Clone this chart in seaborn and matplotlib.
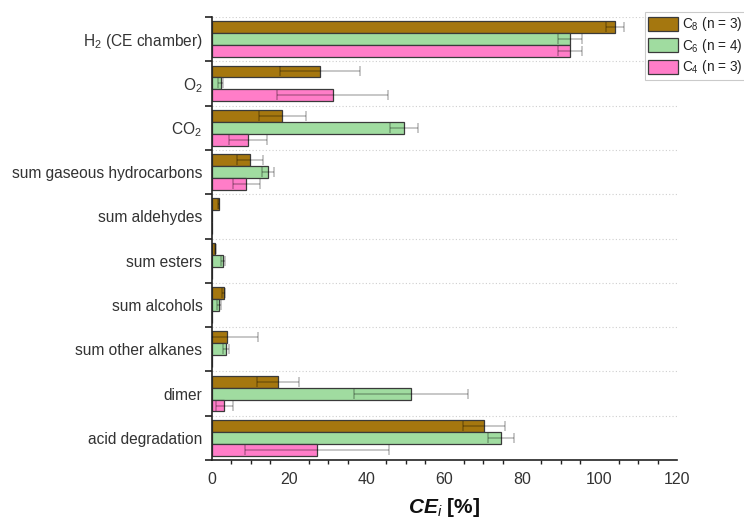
import numpy as np
import pandas as pd
import matplotlib
matplotlib.use("Agg")
import matplotlib.pyplot as plt
from matplotlib.ticker import MultipleLocator, FixedLocator
import seaborn as sns

categories = [
    "H$_2$ (CE chamber)", "O$_2$", "CO$_2$", "sum gaseous hydrocarbons",
    "sum aldehydes", "sum esters", "sum alcohols", "sum other alkanes",
    "dimer", "acid degradation",
]
series = ["C$_8$ (n = 3)", "C$_6$ (n = 4)", "C$_4$ (n = 3)"]

ce_c8 = [104.0, 27.9, 18.1, 9.8, 1.7, 0.9, 3.0, 3.9, 17.0, 70.3]
ce_c6 = [92.4, 2.2, 49.6, 14.5, 0.0, 2.9, 1.7, 3.7, 51.3, 74.5]
ce_c4 = [92.4, 31.1, 9.3, 8.9, 0.0, 0.0, 0.0, 0.0, 3.2, 27.1]

err_c8 = [2.2, 10.3, 6.1, 3.3, 0.2, 0.2, 0.3, 8.0, 5.5, 5.4]
err_c6 = [3.2, 0.7, 3.6, 1.5, 0.0, 0.5, 0.5, 0.8, 14.7, 3.4]
err_c4 = [3.2, 14.3, 5.0, 3.4, 0.0, 0.0, 0.0, 0.0, 2.1, 18.5]

colors = ["#A5770F", "#A0DCA0", "#FF7DC8"]

values = [ce_c8, ce_c6, ce_c4]
errors = [err_c8, err_c6, err_c4]
df = pd.DataFrame({
    "category": np.tile(categories, len(series)),
    "series": np.repeat(series, len(categories)),
    "ce": np.concatenate(values),
    "err": np.concatenate(errors),
})

sns.set_theme(style="white")
plt.rcParams["font.family"] = ["Liberation Sans", "DejaVu Sans"]
plt.rcParams["mathtext.fontset"] = "custom"
plt.rcParams["mathtext.rm"] = "Liberation Sans"
plt.rcParams["mathtext.it"] = "Liberation Sans:italic"
plt.rcParams["mathtext.bf"] = "Liberation Sans:bold"
plt.rcParams["mathtext.bfit"] = "Liberation Sans:bold:italic"

fig = plt.figure(figsize=(7.44, 5.2), dpi=100)
ax = fig.add_axes([212 / 744, 1 - 460 / 520, (677 - 212) / 744, (460 - 17) / 520])

sns.barplot(
    data=df, y="category", x="ce", hue="series", order=categories,
    hue_order=series, palette=colors, orient="h", errorbar=None,
    width=0.81, edgecolor="#3a3a3a", linewidth=0.9, saturation=1,
    ax=ax, zorder=2,
)

# error bars on each bar, taken from the same table
for container, s in zip(ax.containers, series):
    sub = df[df["series"] == s].set_index("category").loc[categories]
    for patch, (_, row) in zip(container.patches, sub.iterrows()):
        if row["err"] <= 0:
            continue
        yc = patch.get_y() + patch.get_height() / 2
        ax.errorbar(row["ce"], yc, xerr=row["err"], fmt="none",
                    ecolor="black", alpha=0.28, elinewidth=1.1,
                    capsize=3.5, capthick=1.1, zorder=3)

ax.set_xlim(0, 120)
ax.set_ylim(len(categories) - 0.5, -0.5)
ax.xaxis.set_major_locator(MultipleLocator(20))
ax.xaxis.set_minor_locator(MultipleLocator(5))
ax.yaxis.set_minor_locator(FixedLocator(np.arange(-0.5, len(categories), 1.0)))

ax.tick_params(axis="x", which="major", direction="out", length=5, width=1.2,
               color="#222222", labelsize=11.5, labelcolor="#333333", pad=4)
ax.tick_params(axis="x", which="minor", direction="out", length=3, width=1.0,
               color="#222222", bottom=True)
ax.tick_params(axis="y", which="major", length=0, labelsize=11.2,
               labelcolor="#333333", pad=7)
ax.tick_params(axis="y", which="minor", direction="out", length=5, width=1.2,
               color="#222222", left=True)

ax.grid(False)
ax.grid(which="minor", axis="y", color="#cfcfcf", linestyle=(0, (1, 2)),
        linewidth=0.8, zorder=0)

for side in ["top", "right"]:
    ax.spines[side].set_visible(False)
for side in ["left", "bottom"]:
    ax.spines[side].set_color("#222222")
    ax.spines[side].set_linewidth(1.2)

ax.set_ylabel("")
ax.set_xlabel(r"$\mathbfit{CE}_{\mathit{i}}$ [%]", fontsize=15, fontweight="bold",
              color="#111111", labelpad=6)

ax.legend_.remove()
handles = [plt.Rectangle((0, 0), 1, 1, facecolor=c, edgecolor="#3a3a3a", linewidth=0.9)
           for c in colors]
leg = fig.legend(handles, series, loc="upper left",
                 bbox_to_anchor=(645 / 744, 1 - 12 / 520),
                 bbox_transform=fig.transFigure, borderaxespad=0,
                 fontsize=9.8, frameon=True, fancybox=False, handlelength=2.2,
                 handleheight=1.2, handletextpad=0.3, labelspacing=0.25,
                 borderpad=0.25)
leg.get_frame().set_edgecolor("#bdbdbd")
leg.get_frame().set_linewidth(0.8)
for t in leg.get_texts():
    t.set_color("#222222")

fig.savefig("out.png", dpi=100)
